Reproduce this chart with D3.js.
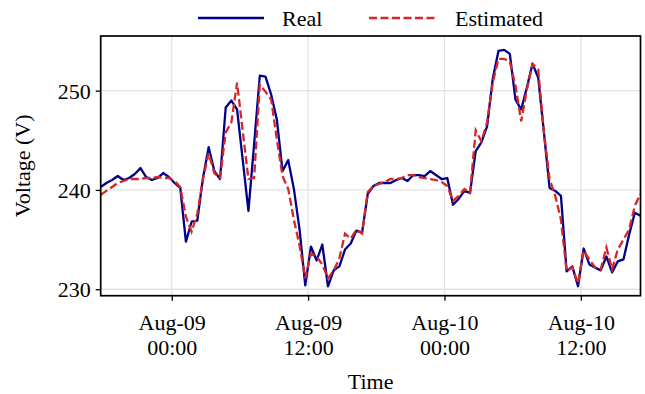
<!DOCTYPE html>
<meta charset="utf-8" />
<style>
  body {
    margin: 0;
    background: #fff;
    font-family: "Liberation Serif", "Times New Roman", serif;
  }
  .axis path { display: none; }
  .axis line { stroke: #000; stroke-width: 1.3; }
  .axis text { font-size: 22px; fill: #000; font-family: "Liberation Serif", serif; }
  .grid line { stroke: #e3e3e3; stroke-width: 1.3; }
  .label { font-size: 22px; fill: #000; text-anchor: middle; }
  .legend { font-size: 22px; fill: #000; }
</style>
<body>
<script src="https://d3js.org/d3.v7.min.js"></script>
<script>
  // readings every 30 min, starting Aug-08 17:45
  var startTime = "2023-08-08 17:45";
  var stepMinutes = 30;

  var realV = [
    240.3, 240.7, 241.0, 241.4, 241.0, 241.2, 241.6, 242.2, 241.3, 241.0,
    241.2, 241.7, 241.3, 240.7, 240.2, 234.8, 236.8, 236.9, 241.2, 244.3,
    241.9, 241.1, 248.3, 249.0, 248.1, 243.0, 237.9, 244.6, 251.5, 251.4,
    249.6, 247.1, 241.9, 243.0, 240.1, 236.0, 230.4, 234.3, 232.9, 234.5,
    230.3, 231.9, 232.3, 234.0, 234.6, 235.9, 235.7, 239.6, 240.4, 240.7,
    240.7, 240.7, 241.0, 241.2, 240.9, 241.5, 241.5, 241.4, 241.9, 241.5,
    241.1, 241.2, 238.5, 239.1, 239.9, 239.7, 243.9, 244.8, 246.4, 251.2,
    254.0, 254.1, 253.7, 249.1, 248.1, 250.3, 252.7, 251.3, 245.8, 240.2,
    239.9, 239.4, 231.8, 232.3, 230.3, 234.1, 232.5, 232.2, 231.9, 233.3,
    231.7, 232.8, 233.0, 235.5, 237.7, 237.4
  ];

  var estV = [
    239.5, 239.9, 240.3, 240.7, 240.9, 241.1, 241.1, 241.1, 241.2, 241.2,
    241.3, 241.2, 241.2, 240.9, 240.3, 237.3, 235.8, 237.6, 241.1, 243.7,
    241.7, 241.2, 245.8, 246.8, 250.8, 245.9, 241.1, 241.2, 250.6, 249.9,
    249.1, 245.1, 241.4, 240.1, 237.0, 234.4, 231.1, 233.6, 233.3, 232.5,
    231.1, 231.9, 233.1, 235.6, 235.1, 236.0, 235.6, 239.8, 240.4, 240.6,
    240.8, 241.1, 241.1, 241.2, 241.5, 241.5, 241.3, 241.2, 241.1, 241.0,
    240.8, 240.4, 238.9, 239.4, 240.1, 239.7, 246.0, 244.9, 246.8, 250.8,
    253.2, 253.2, 252.9, 250.5, 246.9, 250.1, 252.7, 252.1, 245.8, 241.1,
    239.4, 237.0, 231.8, 232.2, 230.6, 233.9, 233.0, 232.2, 232.0, 234.2,
    232.0, 234.0, 235.0, 236.0, 238.4, 239.6
  ];

  var yTicks = [230, 240, 250];
  var xTicks = ["2023-08-09 00:00", "2023-08-09 12:00", "2023-08-10 00:00", "2023-08-10 12:00"];
  var seriesNames = ["Real", "Estimated"];
  var seriesColors = ["#00008b", "#d62728"];

  var parseTime = d3.timeParse("%Y-%m-%d %H:%M");
  var t0 = parseTime(startTime);
  var times = realV.map(function (d, i) {
    return d3.timeMinute.offset(t0, i * stepMinutes);
  });

  var W = 645, H = 394;
  var margin = { top: 36, right: 4.5, bottom: 98.3, left: 100.7 },
    width = W - margin.left - margin.right,
    height = H - margin.top - margin.bottom;

  var svg = d3.select("body").append("svg")
    .attr("width", W)
    .attr("height", H)
    .style("display", "block");

  var g = svg.append("g")
    .attr("transform", "translate(" + margin.left + "," + margin.top + ")");

  var x = d3.scaleTime()
    .domain(d3.extent(times))
    .range([0, width]);

  var y = d3.scaleLinear()
    .domain([229.35, 255.5])
    .range([height, 0]);

  // grid
  g.append("g").attr("class", "grid")
    .selectAll("line.gx").data(xTicks.map(parseTime)).enter()
    .append("line")
    .attr("x1", function (d) { return x(d); })
    .attr("x2", function (d) { return x(d); })
    .attr("y1", 0).attr("y2", height);

  g.append("g").attr("class", "grid")
    .selectAll("line.gy").data(yTicks).enter()
    .append("line")
    .attr("y1", function (d) { return y(d); })
    .attr("y2", function (d) { return y(d); })
    .attr("x1", 0).attr("x2", width);

  // lines
  var line = d3.line()
    .x(function (d, i) { return x(times[i]); })
    .y(function (d) { return y(d); });

  g.append("path")
    .datum(realV)
    .attr("fill", "none")
    .attr("stroke", seriesColors[0])
    .attr("stroke-width", 2.3)
    .attr("stroke-linejoin", "round")
    .attr("d", line);

  g.append("path")
    .datum(estV)
    .attr("fill", "none")
    .attr("stroke", seriesColors[1])
    .attr("stroke-width", 2.3)
    .attr("stroke-dasharray", "8,3.5")
    .attr("d", line);

  // axes
  var fmtDay = d3.timeFormat("%b-%d"), fmtHour = d3.timeFormat("%H:%M");

  var xAxis = g.append("g").attr("class", "axis")
    .attr("transform", "translate(0," + height + ")")
    .call(d3.axisBottom(x)
      .tickValues(xTicks.map(parseTime))
      .tickSize(5)
      .tickPadding(5)
      .tickFormat(""));

  xAxis.selectAll(".tick text").remove();
  xAxis.selectAll(".tick").append("text")
    .attr("text-anchor", "middle")
    .attr("y", 34)
    .each(function (d) {
      var t = d3.select(this);
      t.append("tspan").attr("x", 0).text(fmtDay(d));
      t.append("tspan").attr("x", 0).attr("dy", 25).text(fmtHour(d));
    });

  g.append("g").attr("class", "axis")
    .call(d3.axisLeft(y)
      .tickValues(yTicks)
      .tickSize(5)
      .tickPadding(5)
      .tickFormat(d3.format("d")))
    .selectAll(".tick text")
    .attr("dy", "0.34em");

  // frame
  g.append("rect")
    .attr("width", width)
    .attr("height", height)
    .attr("fill", "none")
    .attr("stroke", "#000")
    .attr("stroke-width", 1.7);

  // axis titles
  svg.append("text").attr("class", "label")
    .attr("x", margin.left + width / 2)
    .attr("y", 389)
    .text("Time");

  svg.append("text").attr("class", "label")
    .attr("transform", "translate(30," + (margin.top + height / 2) + ") rotate(-90)")
    .text("Voltage (V)");

  // legend
  var legendX = [198, 369];
  seriesNames.forEach(function (name, i) {
    var lg = svg.append("g").attr("transform", "translate(" + legendX[i] + ",18)");
    lg.append("line")
      .attr("x1", 0).attr("x2", 66)
      .attr("y1", 0).attr("y2", 0)
      .attr("stroke", seriesColors[i])
      .attr("stroke-width", 2.3)
      .attr("stroke-dasharray", i === 1 ? "8,3.5" : null);
    lg.append("text").attr("class", "legend")
      .attr("x", i === 0 ? 84 : 86)
      .attr("y", 8)
      .text(name);
  });
</script>
</body>
